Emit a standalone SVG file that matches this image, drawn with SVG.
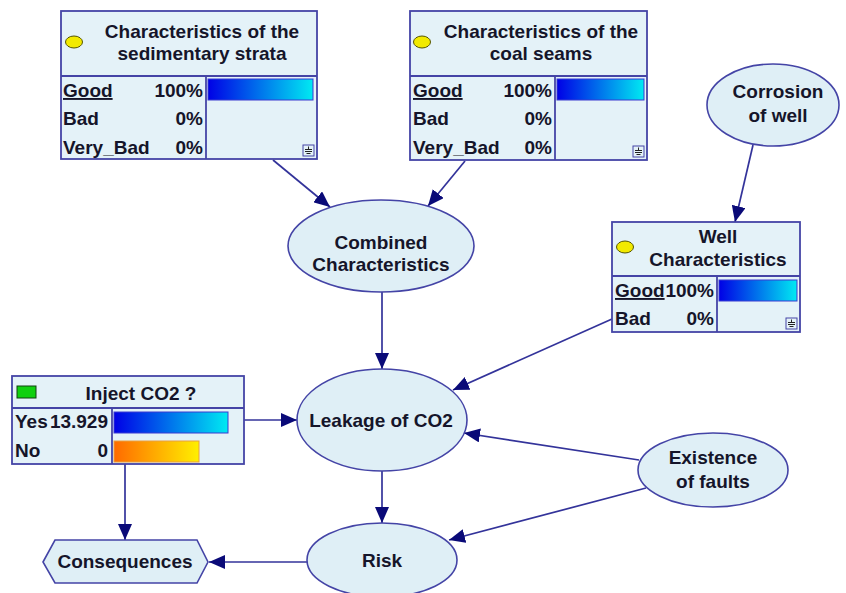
<svg xmlns="http://www.w3.org/2000/svg" width="846" height="593" viewBox="0 0 846 593">
  <defs>
    <linearGradient id="gradBlue" x1="0" y1="0" x2="1" y2="0">
      <stop offset="0" stop-color="#0000e6"/>
      <stop offset="1" stop-color="#00eaf2"/>
    </linearGradient>
    <linearGradient id="gradOrange" x1="0" y1="0" x2="1" y2="0">
      <stop offset="0" stop-color="#ff6a00"/>
      <stop offset="1" stop-color="#fff000"/>
    </linearGradient>
    <marker id="arrow" markerUnits="userSpaceOnUse" markerWidth="18" markerHeight="14" refX="16" refY="7" orient="auto">
      <path d="M0,0 L16,7 L0,14 z" fill="#0a0a78"/>
    </marker>
  </defs>
  <style>
    .box { fill: #e4f2f8; stroke: #4444a6; stroke-width: 1.8; }
    .node { fill: #dfeff6; stroke: #4444a6; stroke-width: 1.6; }
    .sep { stroke: #4444a6; stroke-width: 1.8; fill: none; }
    .bar { stroke: #3a3ad0; stroke-width: 1; }
    .barO { stroke: #e8a040; stroke-width: 1; }
    .lbl { font-family: "Liberation Sans", Arial, sans-serif; font-weight: bold; font-size: 19px; fill: #15152a; }
    .mid { text-anchor: middle; }
    .end { text-anchor: end; }
    .u { text-decoration: underline; }
    .link { stroke: #33339a; stroke-width: 1.7; fill: none; marker-end: url(#arrow); }
    .icon { fill: #e4f2f8; stroke: #4444a6; stroke-width: 1; }
    .iconl { stroke: #222; stroke-width: 1; fill: none; }
    .dot { fill: #f2ea00; stroke: #555500; stroke-width: 1; }
  </style>

  <!-- connectors -->
  <g id="connectors">
    <line class="link" x1="273" y1="160" x2="330" y2="207"/>
    <line class="link" x1="465" y1="161" x2="428" y2="206"/>
    <line class="link" x1="753" y1="145" x2="735" y2="222"/>
    <line class="link" x1="382" y1="292" x2="382" y2="369"/>
    <line class="link" x1="612" y1="319" x2="453" y2="390"/>
    <line class="link" x1="244" y1="420" x2="297" y2="420"/>
    <line class="link" x1="639" y1="460" x2="464" y2="433"/>
    <line class="link" x1="646" y1="488" x2="449" y2="540"/>
    <line class="link" x1="125" y1="464" x2="125" y2="540"/>
    <line class="link" x1="382" y1="471" x2="382" y2="523"/>
    <line class="link" x1="307" y1="562" x2="209" y2="562"/>
  </g>

  <!-- Characteristics of the sedimentary strata -->
  <g id="sedimentary-strata">
    <rect class="box" x="61" y="11" width="256" height="148"/>
    <line class="sep" x1="61" y1="76" x2="317" y2="76"/>
    <line class="sep" x1="206" y1="76" x2="206" y2="159"/>
    <ellipse class="dot" cx="74" cy="42" rx="8.5" ry="6"/>
    <text class="lbl mid" x="202" y="38">Characteristics of the</text>
    <text class="lbl mid" x="202" y="60">sedimentary strata</text>
    <text class="lbl u" x="63" y="97">Good</text>
    <text class="lbl end" x="203" y="97">100%</text>
    <text class="lbl" x="63" y="125">Bad</text>
    <text class="lbl end" x="203" y="125">0%</text>
    <text class="lbl" x="63" y="154">Very_Bad</text>
    <text class="lbl end" x="203" y="154">0%</text>
    <rect class="bar" x="208" y="79" width="105" height="21" fill="url(#gradBlue)"/>
    <rect class="icon" x="303" y="145" width="11" height="11"/>
    <path class="iconl" d="M308.5,146.5 v3 M305,149.5 h7 M305,151.5 h7 M306.5,153.5 h4"/>
  </g>

  <!-- Characteristics of the coal seams -->
  <g id="coal-seams">
    <rect class="box" x="410" y="11" width="237" height="149"/>
    <line class="sep" x1="410" y1="76" x2="647" y2="76"/>
    <line class="sep" x1="555" y1="76" x2="555" y2="160"/>
    <ellipse class="dot" cx="422" cy="42" rx="8.5" ry="6"/>
    <text class="lbl mid" x="541" y="38">Characteristics of the</text>
    <text class="lbl mid" x="541" y="60">coal seams</text>
    <text class="lbl u" x="413" y="97">Good</text>
    <text class="lbl end" x="552" y="97">100%</text>
    <text class="lbl" x="413" y="125">Bad</text>
    <text class="lbl end" x="552" y="125">0%</text>
    <text class="lbl" x="413" y="154">Very_Bad</text>
    <text class="lbl end" x="552" y="154">0%</text>
    <rect class="bar" x="557" y="79" width="87" height="21" fill="url(#gradBlue)"/>
    <rect class="icon" x="633" y="146" width="11" height="11"/>
    <path class="iconl" d="M638.5,147.5 v3 M635,150.5 h7 M635,152.5 h7 M636.5,154.5 h4"/>
  </g>

  <!-- Corrosion of well -->
  <g id="corrosion-of-well">
    <ellipse class="node" cx="773" cy="105" rx="66" ry="41"/>
    <text class="lbl mid" x="778" y="98">Corrosion</text>
    <text class="lbl mid" x="778" y="122">of well</text>
  </g>

  <!-- Combined Characteristics -->
  <g id="combined-characteristics">
    <ellipse class="node" cx="381" cy="246" rx="93" ry="46"/>
    <text class="lbl mid" x="381" y="249">Combined</text>
    <text class="lbl mid" x="381" y="271">Characteristics</text>
  </g>

  <!-- Well Characteristics -->
  <g id="well-characteristics">
    <rect class="box" x="612" y="222" width="188" height="110"/>
    <line class="sep" x1="612" y1="276" x2="800" y2="276"/>
    <line class="sep" x1="717" y1="276" x2="717" y2="332"/>
    <ellipse class="dot" cx="625" cy="247" rx="8.5" ry="6"/>
    <text class="lbl mid" x="718" y="243">Well</text>
    <text class="lbl mid" x="718" y="266">Characteristics</text>
    <text class="lbl u" x="615" y="297">Good</text>
    <text class="lbl end" x="714" y="297">100%</text>
    <text class="lbl" x="615" y="325">Bad</text>
    <text class="lbl end" x="714" y="325">0%</text>
    <rect class="bar" x="719" y="280" width="78" height="21" fill="url(#gradBlue)"/>
    <rect class="icon" x="786" y="318" width="11" height="11"/>
    <path class="iconl" d="M791.5,319.5 v3 M788,322.5 h7 M788,324.5 h7 M789.5,326.5 h4"/>
  </g>

  <!-- Inject CO2 ? -->
  <g id="inject-co2">
    <rect class="box" x="12" y="376" width="232" height="88"/>
    <line class="sep" x1="12" y1="408" x2="244" y2="408"/>
    <line class="sep" x1="112" y1="408" x2="112" y2="464"/>
    <rect x="17" y="386" width="19" height="12" fill="#10d010" stroke="#104010" stroke-width="1"/>
    <text class="lbl mid" x="141" y="400">Inject CO2 ?</text>
    <text class="lbl" x="15" y="428">Yes</text>
    <text class="lbl end" x="108" y="428">13.929</text>
    <text class="lbl" x="15" y="457">No</text>
    <text class="lbl end" x="108" y="457">0</text>
    <rect class="bar" x="114" y="412" width="114" height="21" fill="url(#gradBlue)"/>
    <rect class="barO" x="114" y="441" width="85" height="21" fill="url(#gradOrange)"/>
  </g>

  <!-- Leakage of CO2 -->
  <g id="leakage-of-co2">
    <ellipse class="node" cx="382" cy="420" rx="85" ry="51"/>
    <text class="lbl mid" x="381" y="427">Leakage of CO2</text>
  </g>

  <!-- Existence of faults -->
  <g id="existence-of-faults">
    <ellipse class="node" cx="713" cy="470" rx="75" ry="37"/>
    <text class="lbl mid" x="713" y="464">Existence</text>
    <text class="lbl mid" x="713" y="488">of faults</text>
  </g>

  <!-- Risk -->
  <g id="risk">
    <ellipse class="node" cx="382" cy="560" rx="75" ry="37"/>
    <text class="lbl mid" x="382" y="567">Risk</text>
  </g>

  <!-- Consequences -->
  <g id="consequences">
    <polygon class="node" points="43,562 55,540 197,540 208,562 197,583 55,583"/>
    <text class="lbl mid" x="125" y="568">Consequences</text>
  </g>
</svg>
